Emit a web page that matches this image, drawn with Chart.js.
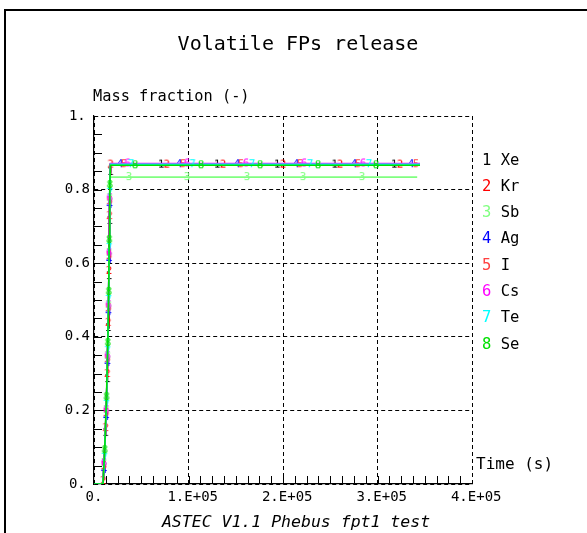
<!DOCTYPE html>
<html>
<head>
<meta charset="utf-8">
<script src="https://cdn.jsdelivr.net/npm/chart.js@4.4.1/dist/chart.umd.min.js"></script>
<style>
html,body{margin:0;padding:0;background:#fff;overflow:hidden}
#wrap{width:587px;height:533px;position:relative}
</style>
</head>
<body>
<div id="wrap"><canvas id="c" width="587" height="533"></canvas></div>
<script>
// ---------------- data ----------------
const titleText = 'Volatile FPs release';
const yAxisTitle = 'Mass fraction (-)';
const xAxisTitle = 'Time (s)';
const footerText = 'ASTEC V1.1 Phebus fpt1 test';

const seriesNames  = ['Xe', 'Kr', 'Sb', 'Ag', 'I', 'Cs', 'Te', 'Se'];
const seriesDigits = ['1', '2', '3', '4', '5', '6', '7', '8'];
const seriesColors = ['#000000', '#ff0000', '#80ff80', '#0000ff', '#ff4040', '#ff00ff', '#00ffff', '#00e000'];

const xTicks = [0, 100000, 200000, 300000, 400000];
const xTickLabels = ['0.', '1.E+05', '2.E+05', '3.E+05', '4.E+05'];
const yTicks = [0, 0.2, 0.4, 0.6, 0.8, 1];
const yTickLabels = ['0.', '0.2', '0.4', '0.6', '0.8', '1.'];

// Xe
const xeTime  = [0, 9600, 11960, 13970, 14880, 15710, 16290, 17180, 17400, 70900, 130200, 193700, 254500, 317500, 345000];
const xeValue = [0, 0, 0.139, 0.285, 0.424, 0.565, 0.715, 0.848, 0.868, 0.868, 0.868, 0.868, 0.868, 0.868, 0.868];
const xeMark  = [0, 0, 1, 1, 1, 1, 1, 1, 0, 1, 1, 1, 1, 1, 0];
// Kr
const krTime  = [0, 9500, 9730, 12270, 14070, 14970, 15760, 16330, 17500, 76900, 136500, 200000, 260300, 323800, 345000];
const krValue = [0, 0, 0.008, 0.152, 0.299, 0.438, 0.579, 0.728, 0.868, 0.868, 0.868, 0.868, 0.868, 0.868, 0.868];
const krMark  = [0, 0, 1, 1, 1, 1, 1, 1, 1, 1, 1, 1, 1, 1, 0];
// Sb
const sbTime  = [0, 9500, 10580, 13010, 14280, 15340, 15970, 16510, 17100, 37000, 98400, 161900, 221200, 283600, 342000];
const sbValue = [0, 0, 0.057, 0.201, 0.348, 0.486, 0.628, 0.777, 0.834, 0.834, 0.834, 0.834, 0.834, 0.834, 0.834];
const sbMark  = [0, 0, 1, 1, 1, 1, 1, 1, 0, 1, 1, 1, 1, 1, 0];
// Ag
const agTime  = [0, 9500, 10470, 12800, 14180, 15240, 15920, 16450, 17400, 27500, 89900, 151300, 213700, 275100, 335400, 345000];
const agValue = [0, 0, 0.038, 0.182, 0.329, 0.467, 0.609, 0.758, 0.869, 0.869, 0.869, 0.869, 0.869, 0.869, 0.869, 0.869];
const agMark  = [0, 0, 1, 1, 1, 1, 1, 1, 0, 1, 1, 1, 1, 1, 1, 0];
// I
const iTime   = [0, 9500, 10580, 12910, 14230, 15290, 15980, 16500, 17400, 31700, 94200, 155600, 218000, 279400, 340700, 345000];
const iValue  = [0, 0, 0.049, 0.193, 0.340, 0.478, 0.620, 0.769, 0.869, 0.869, 0.869, 0.869, 0.869, 0.869, 0.869, 0.869];
const iMark   = [0, 0, 1, 1, 1, 1, 1, 1, 0, 1, 1, 1, 1, 1, 1, 0];
// Cs
const csTime  = [0, 9500, 10580, 13010, 14280, 15340, 15970, 16510, 17400, 35400, 98400, 160800, 222200, 284700, 345000];
const csValue = [0, 0, 0.057, 0.201, 0.348, 0.486, 0.628, 0.777, 0.871, 0.871, 0.871, 0.871, 0.871, 0.871, 0.871];
const csMark  = [0, 0, 1, 1, 1, 1, 1, 1, 0, 1, 1, 1, 1, 1, 0];
// Te
const teTime  = [0, 9500, 11000, 13120, 14390, 15400, 16030, 16570, 17400, 39200, 104200, 167200, 228600, 291000, 345000];
const teValue = [0, 0, 0.071, 0.215, 0.361, 0.500, 0.641, 0.791, 0.869, 0.869, 0.869, 0.869, 0.869, 0.869, 0.869];
const teMark  = [0, 0, 1, 1, 1, 1, 1, 1, 0, 1, 1, 1, 1, 1, 0];
// Se
const seTime  = [0, 9500, 11300, 13200, 14600, 15550, 16100, 16700, 17400, 43400, 113200, 175700, 237000, 298400, 345000];
const seValue = [0, 0, 0.092, 0.236, 0.383, 0.522, 0.663, 0.8125, 0.866, 0.866, 0.866, 0.866, 0.866, 0.866, 0.866];
const seMark  = [0, 0, 1, 1, 1, 1, 1, 1, 0, 1, 1, 1, 1, 1, 0];

const seriesTimes  = [xeTime, krTime, sbTime, agTime, iTime, csTime, teTime, seTime];
const seriesValues = [xeValue, krValue, sbValue, agValue, iValue, csValue, teValue, seValue];
const seriesMarks  = [xeMark, krMark, sbMark, agMark, iMark, csMark, teMark, seMark];

const xMax = 400000, xMinorStep = 12500;
const yMax = 1, yMinorStep = 0.05;

// ---------------- rendering ----------------
const FONT = "'DejaVu Sans Mono', 'Liberation Mono', monospace";

function digitCanvas(d, color) {
  const cv = document.createElement('canvas');
  cv.width = 8; cv.height = 12;
  const c = cv.getContext('2d');
  c.font = '11px ' + FONT;
  c.fillStyle = color;
  c.textAlign = 'center';
  c.textBaseline = 'middle';
  c.fillText(d, 4, 6.5);
  return cv;
}

const datasets = seriesNames.map((name, k) => {
  const marks = seriesMarks[k];
  return {
    label: name,
    data: seriesTimes[k].map((t, i) => ({ x: t, y: seriesValues[k][i] })),
    borderColor: seriesColors[k],
    backgroundColor: seriesColors[k],
    borderWidth: 1.6,
    tension: 0,
    fill: false,
    pointStyle: digitCanvas(seriesDigits[k], seriesColors[k]),
    pointRadius: (ctx) => (marks[ctx.dataIndex] ? 3 : 0),
    pointHoverRadius: 0,
    order: 8 - k
  };
});

const decor = {
  id: 'decor',
  beforeDraw(chart) {
    const c = chart.ctx;
    c.save();
    c.fillStyle = '#fff';
    c.fillRect(0, 0, chart.width, chart.height);
    c.strokeStyle = '#000';
    c.lineWidth = 2;
    c.beginPath();
    c.moveTo(5, chart.height + 5);
    c.lineTo(5, 10);
    c.lineTo(chart.width + 5, 10);
    c.stroke();
    c.restore();
  },
  afterDraw(chart) {
    const c = chart.ctx;
    const { left, right, top, bottom } = chart.chartArea;
    const xs = chart.scales.x, ys = chart.scales.y;
    c.save();
    // inward minor ticks
    c.strokeStyle = '#000';
    c.lineWidth = 1;
    c.beginPath();
    for (let t = xMinorStep; t < xMax; t += xMinorStep) {
      const px = Math.round(xs.getPixelForValue(t)) + 0.5;
      c.moveTo(px, bottom);
      c.lineTo(px, bottom - 8);
    }
    for (let v = yMinorStep; v < yMax - 1e-9; v += yMinorStep) {
      const py = Math.round(ys.getPixelForValue(v)) + 0.5;
      c.moveTo(left, py);
      c.lineTo(left + 8, py);
    }
    c.stroke();

    c.fillStyle = '#000';
    c.textBaseline = 'middle';
    // title
    c.font = '20px ' + FONT;
    c.textAlign = 'center';
    c.fillText(titleText, 298, 45);
    // y axis title
    c.font = '15.3px ' + FONT;
    c.textAlign = 'left';
    c.fillText(yAxisTitle, 93, 97);
    // x axis title
    c.font = '16px ' + FONT;
    c.fillText(xAxisTitle, 476, 465);
    // footer
    c.font = 'italic 16.5px ' + FONT;
    c.textAlign = 'center';
    c.fillText(footerText, 296, 523);
    // legend
    c.font = '15.5px ' + FONT;
    c.textAlign = 'left';
    chart.data.datasets.forEach((ds, k) => {
      const y = 160.5 + k * 26.3;
      const x = 482;
      c.fillStyle = seriesColors[k];
      c.fillText(seriesDigits[k], x, y);
      const w = c.measureText(seriesDigits[k] + ' ').width;
      c.fillStyle = '#000';
      c.fillText(ds.label, x + w, y);
    });
    c.restore();
  }
};

new Chart(document.getElementById('c'), {
  type: 'line',
  data: { datasets },
  options: {
    responsive: false,
    animation: false,
    events: [],
    layout: { padding: { left: 0, top: 116, right: 115, bottom: 0 } },
    plugins: { legend: { display: false }, title: { display: false }, tooltip: { enabled: false } },
    scales: {
      x: {
        type: 'linear',
        min: 0,
        max: xMax,
        afterFit: (s) => { s.height = 49; },
        afterBuildTicks: (s) => { s.ticks = xTicks.map(v => ({ value: v })); },
        ticks: {
          autoSkip: false,
          maxRotation: 0,
          padding: 5,
          color: '#000',
          font: { family: FONT, size: 14 },
          callback: (v) => { const i = xTicks.indexOf(v); return i === 0 ? xTickLabels[0] : ' ' + xTickLabels[i]; }
        },
        grid: { drawTicks: false, color: '#000', lineWidth: 1 },
        border: { display: true, color: '#000', width: 1.2, dash: [4, 3] }
      },
      y: {
        type: 'linear',
        min: 0,
        max: yMax,
        afterFit: (s) => { s.width = 94; },
        afterBuildTicks: (s) => { s.ticks = yTicks.map(v => ({ value: v })); },
        ticks: {
          autoSkip: false,
          padding: 4,
          crossAlign: 'center',
          color: '#000',
          font: { family: FONT, size: 14 },
          callback: (v) => yTickLabels[yTicks.indexOf(v)]
        },
        grid: { drawTicks: false, color: '#000', lineWidth: 1 },
        border: { display: true, color: '#000', width: 1.2, dash: [4, 3] }
      }
    }
  },
  plugins: [decor]
});
</script>
</body>
</html>
